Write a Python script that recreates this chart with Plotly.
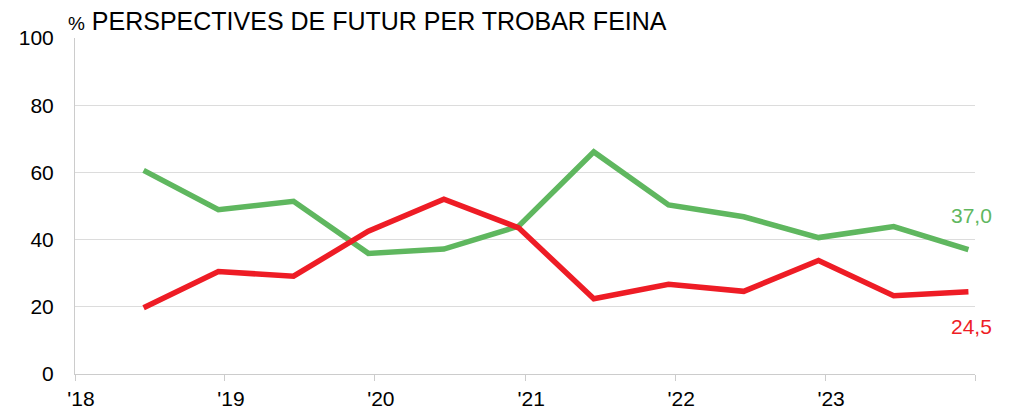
import plotly.graph_objects as go

periods = ["2018-06-17", "2018-12-16", "2019-06-17", "2019-12-16", "2020-06-17", "2020-12-16",
           "2021-06-17", "2021-12-16", "2022-06-17", "2022-12-16", "2023-06-17", "2023-12-16"]
green_vals = [60.6, 48.9, 51.4, 35.9, 37.2, 44.0, 66.1, 50.3, 46.8, 40.6, 43.9, 37.0]
red_vals = [19.7, 30.5, 29.1, 42.5, 52.0, 43.5, 22.4, 26.7, 24.6, 33.8, 23.3, 24.5]
year_ticks = ["2018-01-01", "2019-01-01", "2020-01-01", "2021-01-01", "2022-01-01", "2023-01-01", "2024-01-01"]
year_labels = ["'18", "'19", "'20", "'21", "'22", "'23", ""]
y_ticks = [0, 20, 40, 60, 80, 100]

GREEN = "#5fb75f"
RED = "#ee1c25"
FONT = "Liberation Sans, Arial, sans-serif"

fig = go.Figure()
fig.add_trace(go.Scatter(x=periods, y=green_vals, mode="lines",
                         line=dict(color=GREEN, width=5.5), hoverinfo="skip"))
fig.add_trace(go.Scatter(x=periods, y=red_vals, mode="lines",
                         line=dict(color=RED, width=5.5), hoverinfo="skip"))

fig.add_annotation(x=periods[-1], y=green_vals[-1], text=f"{green_vals[-1]:.1f}".replace(".", ","),
                   showarrow=False, yshift=34, xshift=3, font=dict(color=GREEN, size=21, family=FONT))
fig.add_annotation(x=periods[-1], y=red_vals[-1], text=f"{red_vals[-1]:.1f}".replace(".", ","),
                   showarrow=False, yshift=-35, xshift=3, font=dict(color=RED, size=21, family=FONT))

fig.add_annotation(xref="paper", yref="paper", x=-0.0105, y=1, xanchor="left", yanchor="bottom",
                   yshift=1, showarrow=False,
                   text="<span style='font-size:19px'>%</span> PERSPECTIVES DE FUTUR PER TROBAR FEINA",
                   font=dict(color="#000000", size=25, family=FONT))

fig.update_layout(
    width=1009, height=412,
    margin=dict(l=75, r=34, t=38, b=38, autoexpand=False),
    paper_bgcolor="white", plot_bgcolor="white",
    showlegend=False,
    font=dict(family=FONT, color="#000000", size=21),
)
fig.update_xaxes(type="date", range=[year_ticks[0], year_ticks[-1]],
                 tickmode="array", tickvals=year_ticks, ticktext=year_labels,
                 showgrid=False, showline=True, linecolor="#cccccc", linewidth=1,
                 ticks="outside", ticklen=6, tickcolor="#cccccc", automargin=False,
                 ticklabelshift=6,
                 tickfont=dict(size=21, family=FONT, color="#000000"))
fig.update_yaxes(range=[0, 100], tickmode="array", tickvals=y_ticks,
                 showgrid=True, gridcolor="#dcdcdc", gridwidth=1,
                 showline=True, linecolor="#cccccc", linewidth=1, automargin=False,
                 zeroline=False, ticks="", ticklabelstandoff=16,
                 tickfont=dict(size=21, family=FONT, color="#000000"))

fig.write_html("out.html", config={"displayModeBar": False},
               post_script="document.body.style.margin='0';document.body.style.overflow='hidden';")
